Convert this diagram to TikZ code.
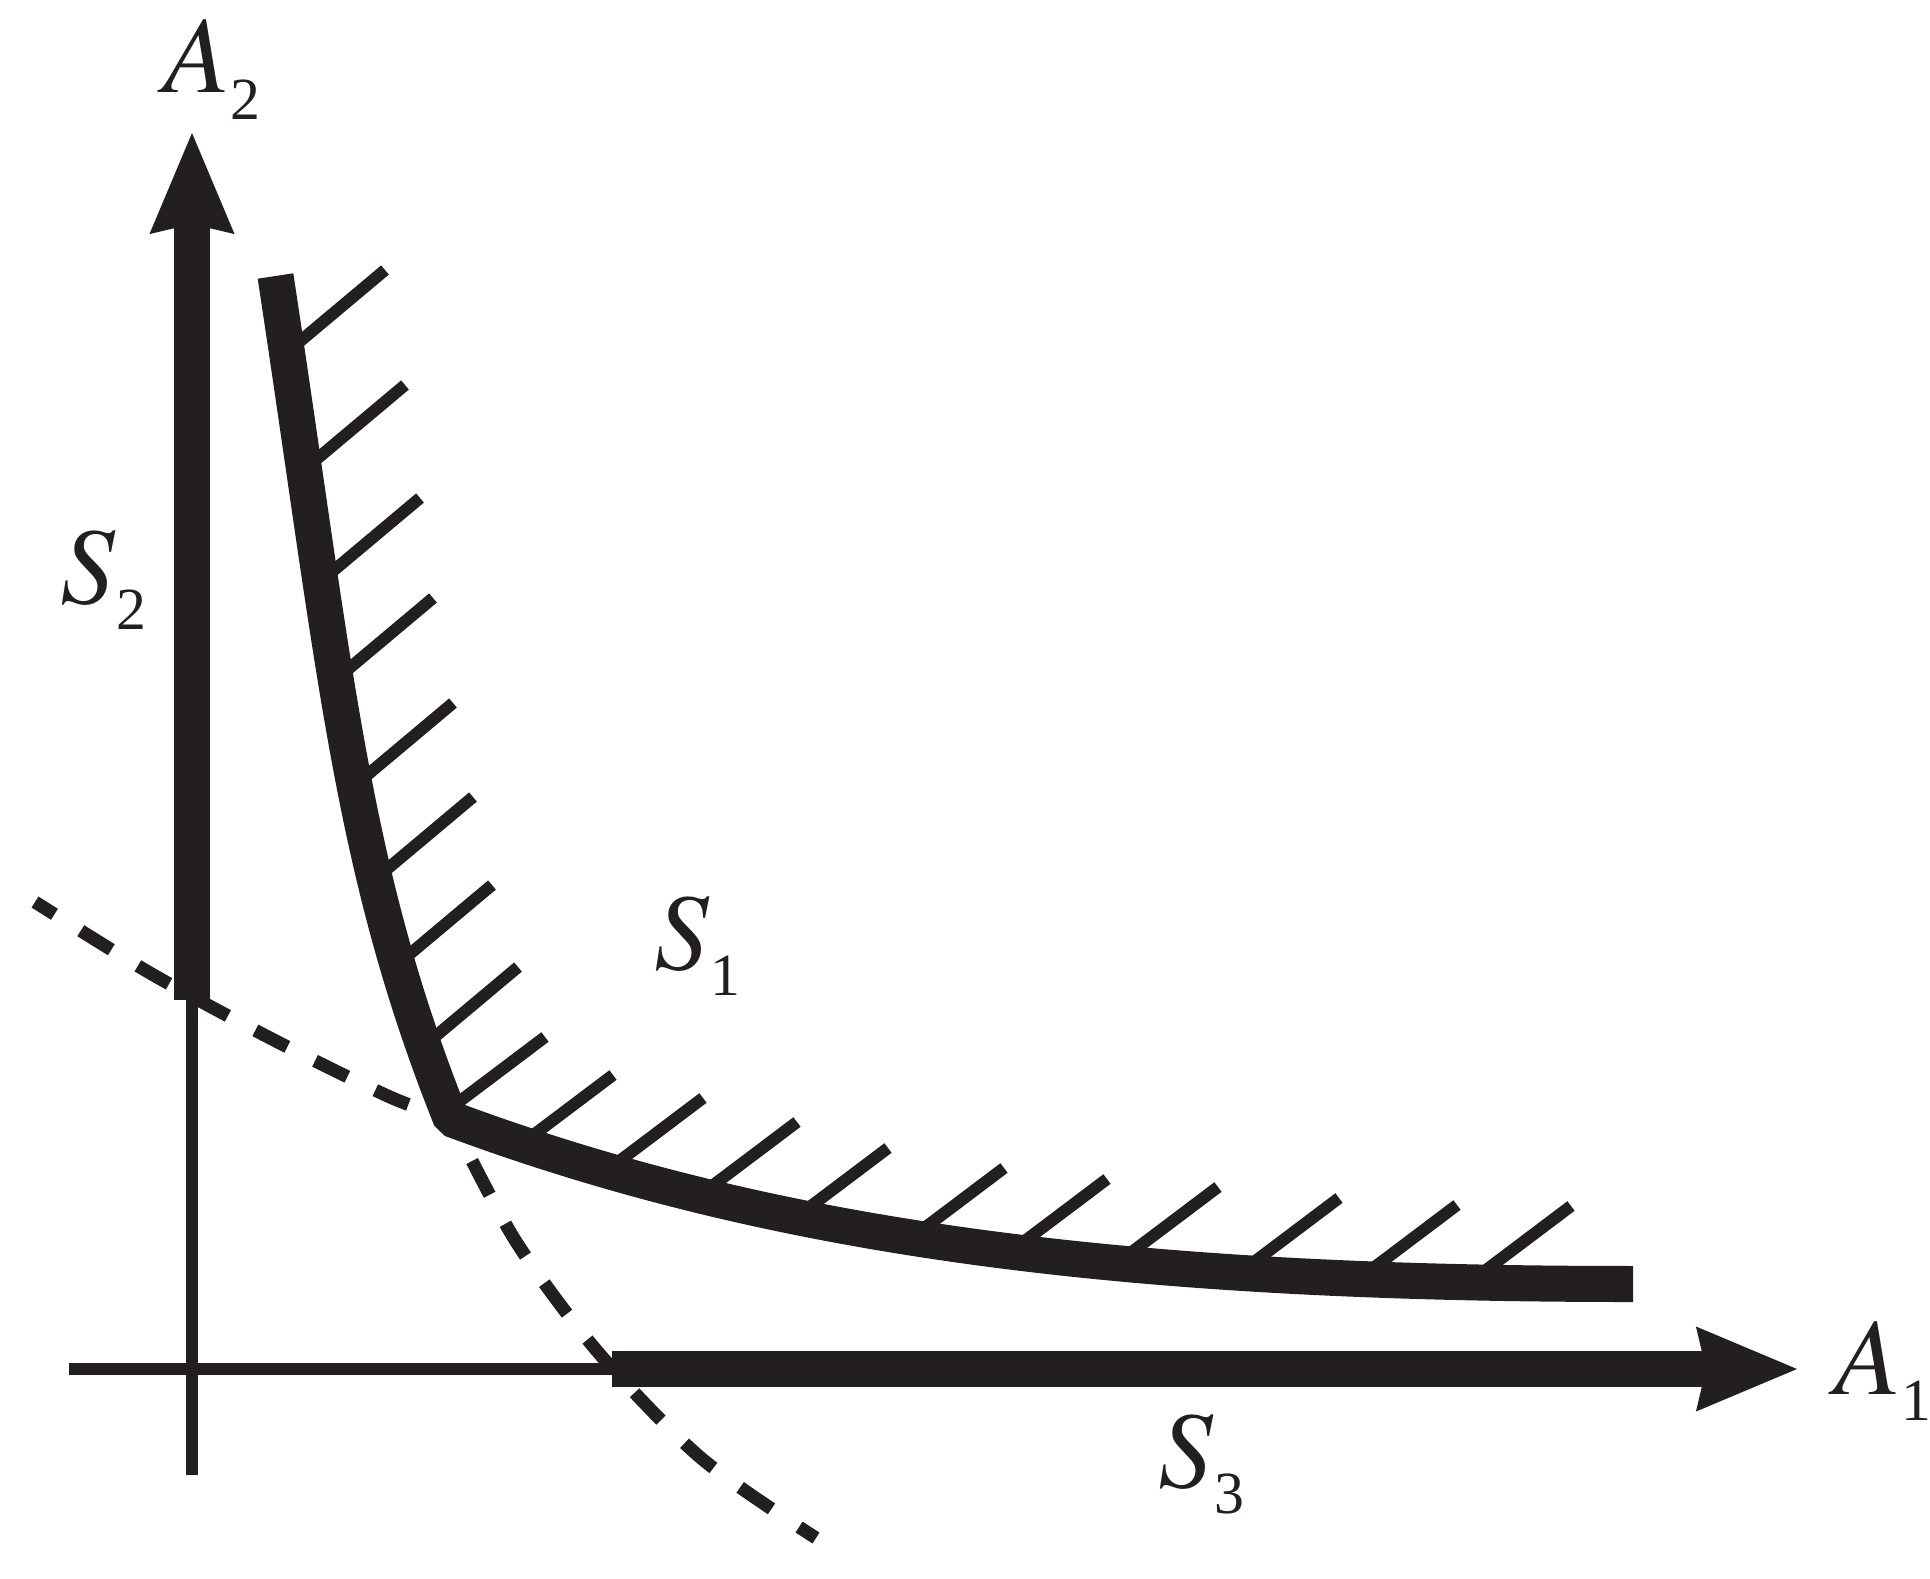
\documentclass[tikz,border=0pt]{standalone}
\usepackage{mathptmx}
\usepackage[no-math]{fontspec}
\setmainfont{Liberation Serif}
\usetikzlibrary{arrows.meta}
\definecolor{ink}{RGB}{35,31,32}
\newcommand{\symb}[3]{$#1$\kern#2\raisebox{-7.4pt}{\fontsize{17}{17}\selectfont #3}}

\begin{document}
\begin{tikzpicture}[x=0.01cm,y=-0.01cm,
	thick axis/.style={ink,line width=0.36cm,-{Stealth[length=1.01cm,width=0.85cm,inset=0.1cm,line width=0pt]}},
	thin axis/.style={ink,line width=0.12cm},
	hatch/.style={ink,line width=0.12cm},
	level/.style={ink,line width=0.13cm},
	lbl/.style={inner sep=0pt,anchor=base west,text=ink,font=\fontsize{31}{31}\selectfont}]
	\useasboundingbox (0,0) rectangle (1930,1579);
	\coordinate (kink) at (451,1119);
	\coordinate (o2) at (192,1000);
	\coordinate (o1) at (612,1369);
	% dashed continuations through the kink
	\draw [level,dash pattern=on 0.38cm off 0.33cm,dash phase=0.24cm] plot[smooth] coordinates {(451,1119) (515,1240) (597,1351) (701,1458) (816,1538)};
	\draw [level,dash pattern=on 0.36cm off 0.31cm,dash phase=0.22cm] plot[smooth] coordinates {(451,1119) (390,1097) (270,1038) (150,973) (35,902)};
	% axes
	\draw [thin axis] (192,1475) -- (o2);
	\draw [thick axis] (o2) -- (192,133);
	\draw [thin axis] (69,1369) -- (o1);
	\draw [thick axis] (o1) -- (1797,1369);
	% hatching
	\foreach \x/\y in {385/270,405/385,420/498,433/598,453/703,473/797,492/885,518/967}
		\draw [hatch] (\x,\y) -- ++(140:125);
	\foreach \x/\y in {545/1037,613/1075,703/1098,797/1122,888/1148,1004/1168,1107/1179,1218/1187,1339/1198,1457/1205,1571/1206}
		\draw [hatch] (\x,\y) -- ++(143:112);
	\draw [ink,line width=0.36cm,line join=bevel] (275.5,276) .. controls (336.3,676) and (351,869) .. (kink) .. controls (779,1241) and (1133,1284) .. (1633,1284);
	% labels
	\node [lbl] (a2) at (163,93) {\symb{A}{0pt}{2}};
	\node [lbl] (s2) at (60,603) {\symb{S}{0pt}{2}};
	\node [lbl] (s1) at (654,969) {\symb{S}{0pt}{1}};
	\node [lbl] (s3) at (1158,1487) {\symb{S}{0pt}{3}};
	\node [lbl] (a1) at (1834,1394) {\symb{A}{0pt}{1}};
\end{tikzpicture}
\end{document}
